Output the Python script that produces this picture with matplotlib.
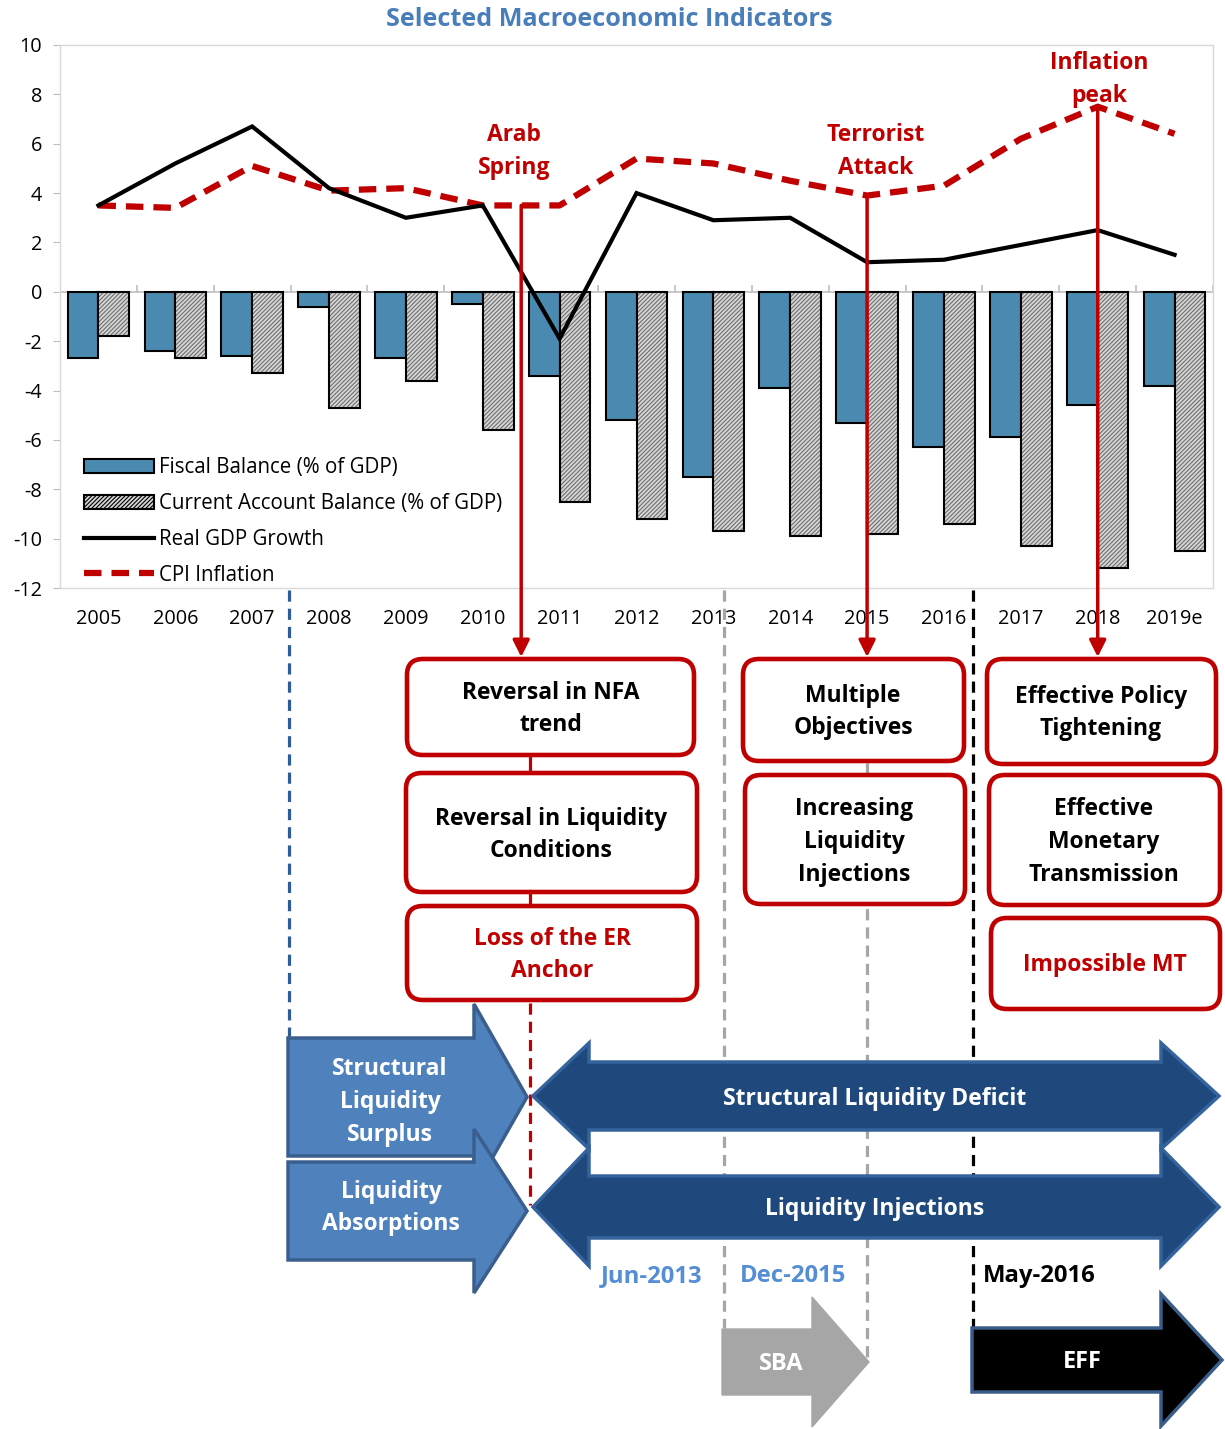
import numpy as np
import matplotlib
matplotlib.use("Agg")
import matplotlib.pyplot as plt
import matplotlib.transforms as mtransforms
from matplotlib.patches import Patch, Polygon, FancyBboxPatch
from matplotlib.lines import Line2D

plt.rcParams['font.family'] = ['Open Sans', 'DejaVu Sans']
plt.rcParams['hatch.linewidth'] = 0.8

# ---------------- data ----------------
years = ['2005', '2006', '2007', '2008', '2009', '2010', '2011', '2012',
         '2013', '2014', '2015', '2016', '2017', '2018', '2019e']
fiscal_balance = [-2.7, -2.4, -2.6, -0.6, -2.7, -0.5, -3.4, -5.2,
                  -7.5, -3.9, -5.3, -6.3, -5.9, -4.6, -3.8]
current_account = [-1.8, -2.7, -3.3, -4.7, -3.6, -5.6, -8.5, -9.2,
                   -9.7, -9.9, -9.8, -9.4, -10.3, -11.2, -10.5]
gdp_growth = [3.5, 5.2, 6.7, 4.2, 3.0, 3.5, -1.9, 4.0,
              2.9, 3.0, 1.2, 1.3, 1.9, 2.5, 1.5]
cpi_inflation = [3.5, 3.4, 5.1, 4.1, 4.2, 3.5, 3.5, 5.4,
                 5.2, 4.5, 3.9, 4.3, 6.2, 7.5, 6.4]
yticks = list(range(-12, 11, 2))
event_labels = ['Arab\nSpring', 'Terrorist\nAttack', 'Inflation\npeak']
event_x = [5.5, 10, 13]          # position on the category axis
event_y = [3.5, cpi_inflation[10], cpi_inflation[13]]

RED = '#C00000'
W, H = 1225, 1429
fig = plt.figure(figsize=(W / 100, H / 100), dpi=100)
fig.patch.set_facecolor('white')

# ---------------- main chart ----------------
L, R, T, B = 60, 1213, 45, 588
ax = fig.add_axes([L / W, 1 - B / H, (R - L) / W, (B - T) / H], zorder=1)
x = np.arange(len(years))

ax.bar(x - 0.2, fiscal_balance, 0.4, color='#4A8AB0', edgecolor='black',
       linewidth=1.5, zorder=2)
ax.bar(x + 0.2, current_account, 0.4, facecolor='#D6D6D6', hatch='////////',
       edgecolor='#6E6E6E', linewidth=0, zorder=2)
ax.bar(x + 0.2, current_account, 0.4, fill=False, edgecolor='black',
       linewidth=1.5, zorder=2)
ax.plot(x, gdp_growth, color='black', lw=3, zorder=4, solid_joinstyle='miter')
ax.plot(x, cpi_inflation, color=RED, lw=4.5, ls=(0, (2.8, 1.6)), zorder=3)

ax.axhline(0, color='#BFBFBF', lw=1.2, zorder=1)
ax.plot(np.arange(-0.5, len(years), 1), np.zeros(len(years) + 1), ls='none',
        marker=2, markersize=5, color='#BFBFBF', mew=1.2, zorder=1)

ax.set_xlim(-0.5, len(years) - 0.5)
ax.set_ylim(-12, 10)
ax.set_yticks(yticks)
ax.set_yticklabels([str(v) for v in yticks])
ax.set_xticks(x)
ax.set_xticklabels(years)
ax.tick_params(axis='x', length=0, pad=15, labelsize=14.3)
ax.tick_params(axis='y', length=5, color='#BFBFBF', pad=8, labelsize=14.3)
for s in ax.spines.values():
    s.set_color('#D9D9D9')
    s.set_linewidth(1)

handles = [Patch(facecolor='#4A8AB0', edgecolor='black', lw=1.5),
           Patch(facecolor='#D6D6D6', edgecolor='black', hatch='////////', lw=1.5),
           Line2D([], [], color='black', lw=3),
           Line2D([], [], color=RED, lw=4.5, ls=(0, (2.8, 1.6)))]
ax.legend(handles, ['Fiscal Balance (% of GDP)', 'Current Account Balance (% of GDP)',
                    'Real GDP Growth', 'CPI Inflation'],
          loc='upper left', bbox_to_anchor=(0.021, 0.241), frameon=False,
          fontsize=14.8, handlelength=3.4, handleheight=0.65, handletextpad=0.25,
          labelspacing=0.72, borderpad=0, borderaxespad=0)

# ---------------- overlay (diagram) ----------------
ov = fig.add_axes([0, 0, 1, 1], zorder=2)
ov.set_xlim(0, W)
ov.set_ylim(H, 0)
ov.axis('off')
ov.patch.set_alpha(0)

ov.text(609, 19, 'Selected Macroeconomic Indicators', ha='center', va='center',
        fontsize=18.2, fontweight='bold', color='#4A7EBB')

# event labels
label_pos = [(514, 151), (876, 151), (1099, 79)]
for (lx, ly), t in zip(label_pos, event_labels):
    ov.text(lx, ly, t, ha='center', va='center', fontsize=16.5, fontweight='bold',
            color=RED, linespacing=1.5)

# red arrows from the CPI line down to the boxes
blend = mtransforms.blended_transform_factory(ax.transData, ov.transData)
for ex, ey in zip(event_x, event_y):
    ov.annotate('', xy=(ex, 657), xycoords=blend, xytext=(ex, ey),
                textcoords=ax.transData,
                arrowprops=dict(arrowstyle='-|>', color=RED, lw=2.5,
                                mutation_scale=25, shrinkA=0, shrinkB=0),
                zorder=6)

# vertical dashed timeline lines
dash = (0, (3.5, 2.2))
ov.plot([289, 289], [590, 1038], color='#2E5C9A', lw=2.3, ls=dash, zorder=1)
ov.plot([724, 724], [590, 1328], color='#A6A6A6', lw=2.3, ls=dash, zorder=1)
ov.plot([867, 867], [763, 1362], color='#A6A6A6', lw=2.3, ls=dash, zorder=1)
ov.plot([973, 973], [590, 1327], color='black', lw=2.3, ls=dash, zorder=1)
ov.plot([530, 530], [1003, 1205], color=RED, lw=2.3, ls=dash, zorder=1)
ov.plot([530, 530], [750, 775], color=RED, lw=2.3, zorder=1)
ov.plot([530, 530], [890, 908], color=RED, lw=2.3, zorder=1)

# red rounded boxes
boxes = [
    ((405, 657, 696, 757), 'Reversal in NFA\ntrend', 'black', (551, 709)),
    ((404, 771, 699, 894), 'Reversal in Liquidity\nConditions', 'black', (551, 835)),
    ((405, 904, 699, 1002), 'Loss of the ER\nAnchor', RED, (552, 955)),
    ((741, 657, 966, 763), 'Multiple\nObjectives', 'black', (853, 712)),
    ((743, 773, 967, 906), 'Increasing\nLiquidity\nInjections', 'black', (854, 842)),
    ((985, 657, 1218, 766), 'Effective Policy\nTightening', 'black', (1101, 713)),
    ((987, 773, 1222, 907), 'Effective\nMonetary\nTransmission', 'black', (1104, 842)),
    ((989, 916, 1222, 1011), 'Impossible MT', RED, (1105, 965)),
]
for (x0, y0, x1, y1), txt, col, (tx, ty) in boxes:
    p = FancyBboxPatch((x0 + 2, y0 + 2), x1 - x0 - 4, y1 - y0 - 4,
                       boxstyle='round,pad=0,rounding_size=16',
                       facecolor='white', edgecolor=RED, lw=3.3, zorder=3)
    ov.add_patch(p)
    ov.text(tx, ty, txt, ha='center', va='center', fontsize=16.5,
            fontweight='bold', color=col, linespacing=1.48, zorder=5)


def arrow_poly(x0, base, tip, yc, bh, hh):
    return [(x0, yc - bh), (base, yc - bh), (base, yc - hh), (tip, yc),
            (base, yc + hh), (base, yc + bh), (x0, yc + bh)]


def double_arrow_poly(ltip, lbase, rbase, rtip, yc, bh, hh):
    return [(ltip, yc), (lbase, yc - hh), (lbase, yc - bh), (rbase, yc - bh),
            (rbase, yc - hh), (rtip, yc), (rbase, yc + hh), (rbase, yc + bh),
            (lbase, yc + bh), (lbase, yc + hh)]


LB, LBE = '#4F81BD', '#3A5F8E'
DB, DBE = '#1F497D', '#34639E'
ov.add_patch(Polygon(arrow_poly(288, 474, 527, 1097, 59, 93), closed=True,
                     facecolor=LB, edgecolor=LBE, lw=2.5, joinstyle='miter', zorder=4))
ov.add_patch(Polygon(arrow_poly(288, 474, 527, 1211, 49, 82), closed=True,
                     facecolor=LB, edgecolor=LBE, lw=2.5, joinstyle='miter', zorder=4))
ov.add_patch(Polygon(double_arrow_poly(533, 589, 1161, 1219, 1096, 34, 53), closed=True,
                     facecolor=DB, edgecolor=DBE, lw=2.5, joinstyle='miter', zorder=4))
ov.add_patch(Polygon(double_arrow_poly(533, 589, 1161, 1219, 1207, 31, 59), closed=True,
                     facecolor=DB, edgecolor=DBE, lw=2.5, joinstyle='miter', zorder=4))
ov.add_patch(Polygon(arrow_poly(722, 812, 869, 1362, 33, 65), closed=True,
                     facecolor='#A6A6A6', edgecolor='#A6A6A6', lw=1, joinstyle='miter', zorder=4))
ov.add_patch(Polygon(arrow_poly(972, 1161, 1222, 1360, 32, 66), closed=True,
                     facecolor='black', edgecolor='#385D8A', lw=2.5, joinstyle='miter', zorder=4))

wkw = dict(ha='center', va='center', fontweight='bold', color='white', zorder=5)
ov.text(390, 1102, 'Structural\nLiquidity\nSurplus', fontsize=16.5, linespacing=1.48, **wkw)
ov.text(391, 1208, 'Liquidity\nAbsorptions', fontsize=16.5, linespacing=1.48, **wkw)
ov.text(875, 1099, 'Structural Liquidity Deficit', fontsize=16.5, **wkw)
ov.text(875, 1209, 'Liquidity Injections', fontsize=16.5, **wkw)
ov.text(781, 1364, 'SBA', fontsize=17, **wkw)
ov.text(1082, 1362, 'EFF', fontsize=16.8, **wkw)

ov.text(652, 1276, 'Jun-2013', ha='center', va='center', fontsize=17.2,
        fontweight='bold', color='#558ED5')
ov.text(793, 1276, 'Dec-2015', ha='center', va='center', fontsize=17.2,
        fontweight='bold', color='#558ED5')
ov.text(1039, 1276, 'May-2016', ha='center', va='center', fontsize=17.2,
        fontweight='bold', color='black')

fig.savefig('out.png', dpi=100, facecolor='white')
